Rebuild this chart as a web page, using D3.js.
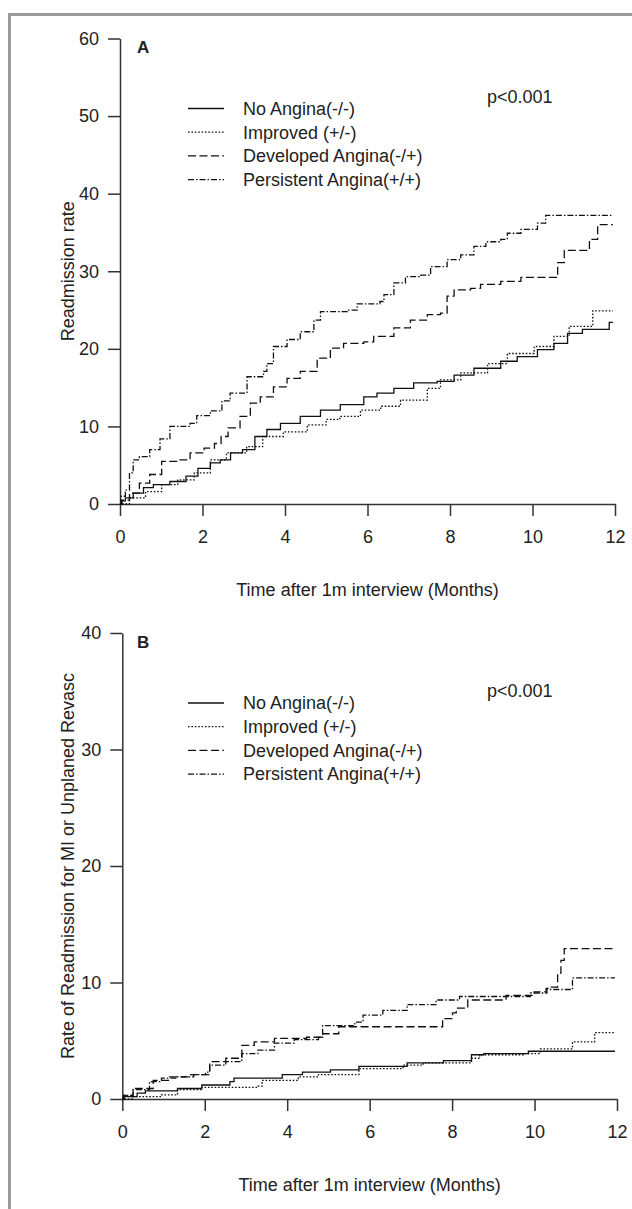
<!DOCTYPE html>
<html>
<head>
<meta charset="utf-8">
<script src="https://cdn.jsdelivr.net/npm/d3@7"></script>
<style>
  body { margin: 0; background: #fff; }
  text { font-family: "Liberation Sans", Arial, sans-serif; fill: #222; }
</style>
</head>
<body>
<svg id="chart" width="632" height="1209"></svg>
<script>
// ---- data ----
const monthTicks = [0, 2, 4, 6, 8, 10, 12];
const rateTicksA = [0, 10, 20, 30, 40, 50, 60];
const rateTicksB = [0, 10, 20, 30, 40];
const groups = ["No Angina(-/-)", "Improved (+/-)", "Developed Angina(-/+)", "Persistent Angina(+/+)"];

// panel A: readmission rate, [month, rate]
const readmitNoAngina = [[0,0],[0.05,0.4],[0.13,0.8],[0.32,1.4],[0.57,2.1],[0.81,2.5],[1.21,2.9],[1.6,3.6],[1.89,4.6],[2.19,5.3],[2.43,5.7],[2.68,6.6],[2.97,7.0],[3.27,8.7],[3.56,9.6],[3.89,10.4],[4.37,11.3],[4.86,12.1],[5.34,12.8],[5.91,13.8],[6.23,14.3],[6.64,14.9],[7.12,15.6],[7.69,15.8],[8.1,16.6],[8.58,17.5],[9.23,18.4],[9.63,19.0],[10.12,19.9],[10.52,20.7],[10.85,22.0],[11.21,22.5],[11.86,23.4],[11.95,23.4]];
const readmitImproved = [[0.05,0],[0.23,0.8],[0.62,1.6],[1.01,2.5],[1.4,3.1],[1.8,4.0],[2.19,5.7],[2.58,6.6],[3.07,7.4],[3.46,8.7],[3.96,9.3],[4.54,10.2],[5.0,10.9],[5.33,11.3],[5.83,12.1],[6.32,12.6],[6.8,13.4],[7.45,14.9],[7.77,16.0],[8.26,16.9],[8.91,18.1],[9.39,19.4],[10.04,20.3],[10.52,21.6],[10.89,22.9],[11.46,24.9],[11.95,24.9]];
const readmitDeveloped = [[0,0],[0.03,0.5],[0.23,1.4],[0.47,2.7],[0.72,3.8],[1.01,5.5],[1.4,5.7],[1.7,6.6],[2.04,7.2],[2.29,7.8],[2.45,8.7],[2.62,9.8],[2.91,11.3],[3.16,13.0],[3.4,13.8],[3.72,15.1],[4.05,16.2],[4.37,17.1],[4.78,18.8],[5.1,20.1],[5.42,20.7],[5.91,20.9],[6.15,21.6],[6.64,22.7],[7.04,23.7],[7.45,24.4],[7.77,24.6],[7.93,26.8],[8.1,27.6],[8.5,27.8],[8.74,28.3],[9.23,28.7],[9.72,29.2],[10.61,31.1],[10.77,32.7],[11.38,34.1],[11.58,36.0],[11.95,36.0]];
const readmitPersistent = [[0,0],[0.03,1.0],[0.13,1.8],[0.23,4.0],[0.32,5.7],[0.47,6.1],[0.72,7.0],[0.97,8.4],[1.21,10.0],[1.7,10.4],[1.86,11.4],[2.19,12.0],[2.47,13.3],[2.67,14.3],[3.08,16.4],[3.48,17.1],[3.56,18.1],[3.72,20.3],[4.05,21.2],[4.37,22.2],[4.7,23.7],[4.86,24.8],[5.51,25.0],[5.75,25.8],[6.3,26.1],[6.4,27.0],[6.64,28.5],[6.92,29.3],[7.29,29.5],[7.53,30.6],[7.93,31.5],[8.26,32.1],[8.58,33.2],[8.87,33.8],[9.23,34.1],[9.39,34.9],[9.72,35.4],[10.12,36.2],[10.32,37.2],[11.95,37.2]];

// panel B: MI or unplanned revascularisation, [month, rate]
const miNoAngina = [[0,0],[0.03,0.2],[0.36,0.5],[0.56,0.7],[1.34,0.9],[1.93,1.2],[2.61,1.5],[2.71,1.8],[3.88,2.1],[4.37,2.3],[5.05,2.5],[5.74,2.8],[6.91,3.1],[7.79,3.3],[8.47,3.8],[8.77,3.9],[9.85,4.1],[11.95,4.1]];
const miImproved = [[0.05,0],[0.26,0.2],[0.95,0.35],[1.34,0.8],[1.93,1.0],[3.29,1.1],[3.39,1.6],[4.27,1.9],[4.76,2.1],[5.74,2.6],[6.81,2.9],[7.3,3.1],[8.47,3.5],[8.67,3.8],[9.74,3.9],[10.14,4.3],[10.92,4.9],[11.46,5.7],[11.95,5.7]];
const miDeveloped = [[0,0],[0.03,0.3],[0.26,0.9],[0.75,1.6],[1.15,1.9],[1.63,2.1],[2.12,3.2],[2.51,3.5],[2.9,4.6],[3.2,4.9],[3.69,5.2],[4.47,5.3],[4.86,5.6],[5.25,6.2],[7.77,6.9],[8.01,7.4],[8.1,7.8],[8.38,8.5],[9.31,8.9],[9.99,9.2],[10.28,9.5],[10.4,9.6],[10.56,10.8],[10.64,11.9],[10.72,12.9],[11.95,12.9]];
const miPersistent = [[0,0],[0.05,0.3],[0.26,0.8],[0.66,1.5],[0.95,1.8],[1.34,1.9],[1.73,2.1],[2.02,2.3],[2.12,2.9],[2.51,3.2],[2.9,3.9],[3.29,4.2],[3.69,4.8],[4.17,5.1],[4.76,5.3],[4.86,6.3],[5.64,6.6],[5.84,7.2],[6.32,7.6],[6.91,8.1],[7.61,8.5],[8.18,8.8],[9.9,9.1],[10.3,9.4],[10.92,10.4],[11.95,10.4]];

// ---- styles ----
const dashFor = ["none", "1.6,1.8", "8,3.5", "6,2,1.5,2"];
const svg = d3.select("#chart");

// grey frame, cut off at right and bottom
svg.append("path").attr("d", "M632,14.5H9.5V1209")
  .attr("fill", "none").attr("stroke", "#9a9a9a").attr("stroke-width", 3);

function drawPanel(p) {
  const x = d3.scaleLinear().domain([0, 12]).range([p.left, p.right]);
  const y = d3.scaleLinear().domain([0, p.yMax]).range([p.bottom, p.top]);
  const g = svg.append("g");

  const yAxis = g.append("g").attr("transform", `translate(${p.left},0)`)
    .call(d3.axisLeft(y).tickValues(p.yTicks).tickSize(12).tickSizeOuter(0).tickPadding(9));
  const xAxis = g.append("g").attr("transform", `translate(0,${p.bottom})`)
    .call(d3.axisBottom(x).tickValues(monthTicks).tickSize(12).tickSizeOuter(0).tickPadding(14));
  [yAxis, xAxis].forEach(a => {
    a.selectAll("path, line").attr("stroke", "#333").attr("stroke-width", 1.5);
    a.selectAll("text").attr("font-size", 18).attr("fill", "#222");
  });

  const line = d3.line().curve(d3.curveStepAfter).x(d => x(d[0])).y(d => y(d[1]));
  p.series.forEach((s, i) => {
    g.append("path").datum(s).attr("d", line)
      .attr("fill", "none").attr("stroke", "#111").attr("stroke-width", 1.3)
      .attr("stroke-dasharray", dashFor[i]);
  });

  // legend
  groups.forEach((name, i) => {
    const ly = p.top + 70 + i * 23.7;
    g.append("line").attr("x1", 188).attr("x2", 224).attr("y1", ly).attr("y2", ly)
      .attr("stroke", "#111").attr("stroke-width", 1.3).attr("stroke-dasharray", dashFor[i]);
    g.append("text").attr("x", 243).attr("y", ly).attr("dy", "0.35em")
      .attr("font-size", 18).text(name);
  });

  g.append("text").attr("x", 487).attr("y", p.top + 58).attr("dy", "0.35em")
    .attr("font-size", 18).text("p<0.001");
  g.append("text").attr("x", 137).attr("y", p.top + 9).attr("dy", "0.35em")
    .attr("font-size", 17).attr("font-weight", "bold").text(p.letter);

  g.append("text").attr("x", (p.left + p.right) / 2).attr("y", p.bottom + 86).attr("dy", "0.35em")
    .attr("text-anchor", "middle").attr("font-size", 18).text("Time after 1m interview (Months)");
  g.append("text")
    .attr("transform", `translate(${p.titleX},${(p.top + p.bottom) / 2}) rotate(-90)`)
    .attr("dy", "0.35em").attr("text-anchor", "middle").attr("font-size", 18).text(p.yTitle);
}

drawPanel({
  letter: "A", left: 120, right: 615, top: 38.5, bottom: 504, yMax: 60, yTicks: rateTicksA,
  titleX: 68, yTitle: "Readmission rate",
  series: [readmitNoAngina, readmitImproved, readmitDeveloped, readmitPersistent]
});
drawPanel({
  letter: "B", left: 122.3, right: 617, top: 633, bottom: 1099, yMax: 40, yTicks: rateTicksB,
  titleX: 68, yTitle: "Rate of Readmission for MI or Unplaned Revasc",
  series: [miNoAngina, miImproved, miDeveloped, miPersistent]
});
</script>
</body>
</html>
